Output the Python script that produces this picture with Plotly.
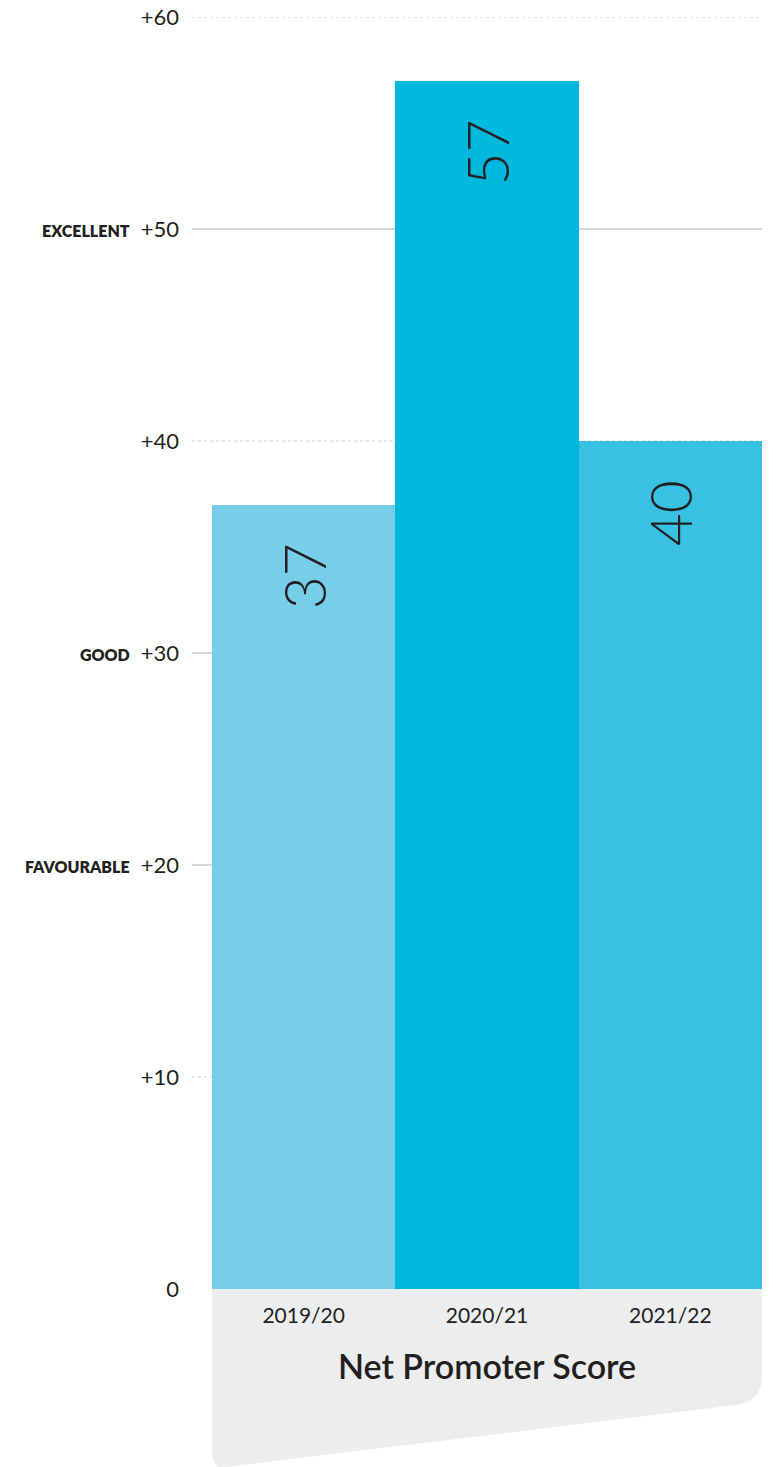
import plotly.graph_objects as go

# ---- data ----
years = ["2019/20", "2020/21", "2021/22"]
nps = [37, 57, 40]
bar_colors = ["#77cee9", "#00b7de", "#39c1e4"]
tick_vals = [0, 10, 20, 30, 40, 50, 60]
tick_text = ["0", "+10", "+20", "+30", "+40", "+50", "+60"]
rating_vals = [50, 30, 20]
rating_text = ["EXCELLENT", "GOOD", "FAVOURABLE"]
solid_grid = [50, 30, 20]
dotted_grid = [60, 40, 10]
axis_title = "Net Promoter Score"

W, H = 779, 1467
L, R, T, B = 192, 17, 17, 178
PW = W - L - R
PH = H - T - B


def px_x(px):
    return (px - L) / PW


def px_y(py):
    return (H - B - py) / PH


FONT = "Lato"
DARK = "#231f20"

fig = go.Figure()
fig.add_trace(go.Bar(
    x=years, y=nps, marker=dict(color=bar_colors, line=dict(width=0)),
    hoverinfo="skip", showlegend=False,
))

shapes = []
# grey panel under the chart
x0, x1 = px_x(212), px_x(762)
path = (
    f"M {x0},{px_y(1289)} L {x1},{px_y(1289)} L {x1},{px_y(1376)} "
    f"Q {x1},{px_y(1402)} {px_x(736)},{px_y(1405)} "
    f"L {px_x(226)},{px_y(1467)} "
    f"Q {x0},{px_y(1469)} {x0},{px_y(1452)} Z"
)
shapes.append(dict(type="path", path=path, xref="paper", yref="paper",
                   fillcolor="#ecedef", line=dict(width=0), layer="below"))
for v in solid_grid:
    shapes.append(dict(type="line", xref="paper", yref="y", x0=0, x1=1, y0=v, y1=v,
                       line=dict(color="#a9adb4", width=1), layer="below"))
for v in dotted_grid:
    shapes.append(dict(type="line", xref="paper", yref="y", x0=0, x1=1, y0=v, y1=v,
                       line=dict(color="#cfd1d4", width=1, dash="dot"), layer="below"))

annotations = []
for v, t in zip(rating_vals, rating_text):
    annotations.append(dict(
        x=px_x(132), xref="paper", y=v, yref="y", xanchor="right", yanchor="middle",
        yshift=-1, text=t, showarrow=False,
        font=dict(family=FONT, size=16, color=DARK, weight=800),
    ))
for c, v in zip(years, nps):
    annotations.append(dict(
        x=c, y=v, xref="x", yref="y", xanchor="center", yanchor="top",
        yshift=-37, textangle=-90, text=str(v), showarrow=False,
        font=dict(family=FONT, size=57, color=DARK, weight=300),
    ))
annotations.append(dict(
    x=px_x(487), y=px_y(1365), xref="paper", yref="paper",
    xanchor="center", yanchor="middle", text=axis_title, showarrow=False,
    font=dict(family=FONT, size=34, color=DARK, weight=600),
))

fig.update_layout(
    width=W, height=H,
    margin=dict(l=L, r=R, t=T, b=B, pad=0),
    paper_bgcolor="white", plot_bgcolor="rgba(0,0,0,0)",
    bargap=0,
    shapes=shapes, annotations=annotations,
    font=dict(family=FONT, color=DARK),
    xaxis=dict(
        type="category", range=[-0.5 - 20 / 183.33, 2.5],
        showgrid=False, zeroline=False, showline=False, ticks="",
        tickfont=dict(family=FONT, size=21, color=DARK),
        ticklabelstandoff=12, fixedrange=True, automargin=False,
    ),
    yaxis=dict(
        range=[0, 60], tickvals=tick_vals, ticktext=tick_text,
        showgrid=False, zeroline=False, showline=False, ticks="",
        tickfont=dict(family=FONT, size=22, color=DARK),
        ticklabelstandoff=12, fixedrange=True, automargin=False,
    ),
)

fig.write_html("out.html")
